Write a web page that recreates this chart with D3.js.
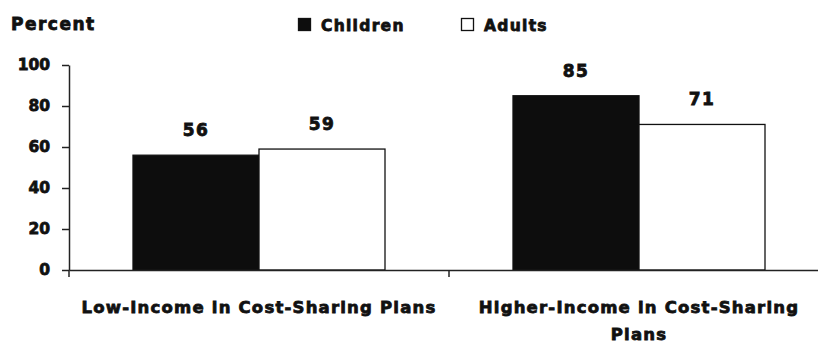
<!DOCTYPE html>
<html>
<head>
<meta charset="utf-8">
<script src="https://cdn.jsdelivr.net/npm/d3@7/dist/d3.min.js"></script>
<style>
  html, body { margin: 0; padding: 0; background: #fff; }
  svg { display: block; }
  text { font-family: "DejaVu Sans", sans-serif; font-weight: bold; fill: #111; stroke: #111; stroke-width: 0.8px; }
</style>
</head>
<body>
<svg id="chart" width="818" height="343"></svg>
<script>
const categories = ["Low-Income in Cost-Sharing Plans", "Higher-Income in Cost-Sharing Plans"];
const seriesNames = ["Children", "Adults"];
const childrenValues = [56, 85];
const adultsValues = [59, 71];
const yTicks = [0, 20, 40, 60, 80, 100];
const yTitle = "Percent";

const seriesValues = [childrenValues, adultsValues];
const fills = ["#0d0d0d", "#ffffff"];

const svg = d3.select("#chart");
const mLeft = 69, mBottom = 270, mTop = 65;

const x0 = d3.scaleBand().domain(categories).range([mLeft, mLeft + 760]).paddingInner(0).paddingOuter(0);
const x1 = d3.scaleBand().domain(seriesNames).range([0, x0.bandwidth()]).paddingInner(0).paddingOuter(64 / 126);
const y = d3.scaleLinear().domain([0, 100]).range([mBottom, mTop]);

// Bars
categories.forEach((cat, ci) => {
  seriesNames.forEach((s, si) => {
    const v = seriesValues[si][ci];
    svg.append("rect")
      .attr("x", x0(cat) + x1(s))
      .attr("y", y(v))
      .attr("width", x1.bandwidth())
      .attr("height", y(0) - y(v))
      .attr("fill", fills[si])
      .attr("stroke", "#111")
      .attr("stroke-width", 1.3);
    svg.append("text")
      .attr("x", x0(cat) + x1(s) + x1.bandwidth() / 2)
      .attr("y", y(v) - 19)
      .attr("text-anchor", "middle")
      .style("font-size", "17px")
      .style("letter-spacing", "1.5px")
      .text(v);
  });
});

// Y axis
const yAxis = svg.append("g")
  .attr("transform", `translate(${mLeft},0)`)
  .call(d3.axisLeft(y).tickValues(yTicks).tickSize(7).tickPadding(12).tickSizeOuter(0));
yAxis.select(".domain").attr("stroke", "#222").attr("stroke-width", 1.5);
yAxis.selectAll(".tick line").attr("stroke", "#222").attr("stroke-width", 1.5);
yAxis.selectAll(".tick text")
  .attr("fill", "#111")
  .style("font-size", "15.5px")
  .style("font-family", "'DejaVu Sans', sans-serif")
  .style("font-weight", "bold");

// X axis
const xAxis = svg.append("g")
  .attr("transform", `translate(0,${mBottom})`)
  .call(d3.axisBottom(x0).tickSize(0).tickFormat(""));
xAxis.select(".domain").attr("stroke", "#222").attr("stroke-width", 1.5);
xAxis.selectAll(".tick").remove();
const boundaries = [x0.range()[0]].concat(categories.map(c => x0(c) + x0.bandwidth()));
xAxis.selectAll("line.sep").data(boundaries).enter().append("line")
  .attr("class", "sep")
  .attr("x1", d => d).attr("x2", d => d)
  .attr("y1", 0).attr("y2", 7)
  .attr("stroke", "#222").attr("stroke-width", 1.5);

// Category labels with wrapping
categories.forEach(cat => {
  const cx = x0(cat) + x0.bandwidth() / 2;
  const t = svg.append("text")
    .attr("x", cx)
    .attr("y", 313)
    .attr("text-anchor", "middle")
    .style("font-size", "16.5px")
    .style("letter-spacing", "1.2px");
  const words = cat.split(" ");
  let line = [];
  let tspan = t.append("tspan").attr("x", cx).attr("dy", 0);
  words.forEach(w => {
    line.push(w);
    tspan.text(line.join(" "));
    if (tspan.node().getComputedTextLength() > x0.bandwidth() - 10 && line.length > 1) {
      line.pop();
      tspan.text(line.join(" "));
      line = [w];
      tspan = t.append("tspan").attr("x", cx).attr("dy", 27).text(w);
    }
  });
});

// Y title
svg.append("text")
  .attr("x", 11)
  .attr("y", 30)
  .style("font-size", "17px")
  .style("letter-spacing", "1.5px")
  .text(yTitle);

// Legend
const legendX = [298, 461];
seriesNames.forEach((s, i) => {
  svg.append("rect")
    .attr("x", legendX[i] + 0.5)
    .attr("y", 18.5)
    .attr("width", 12)
    .attr("height", 12)
    .attr("fill", fills[i])
    .attr("stroke", "#111")
    .attr("stroke-width", 1.3);
  svg.append("text")
    .attr("x", legendX[i] + 23)
    .attr("y", 31)
    .style("font-size", "15.5px")
    .style("letter-spacing", "1.3px")
    .text(s);
});
</script>
</body>
</html>
